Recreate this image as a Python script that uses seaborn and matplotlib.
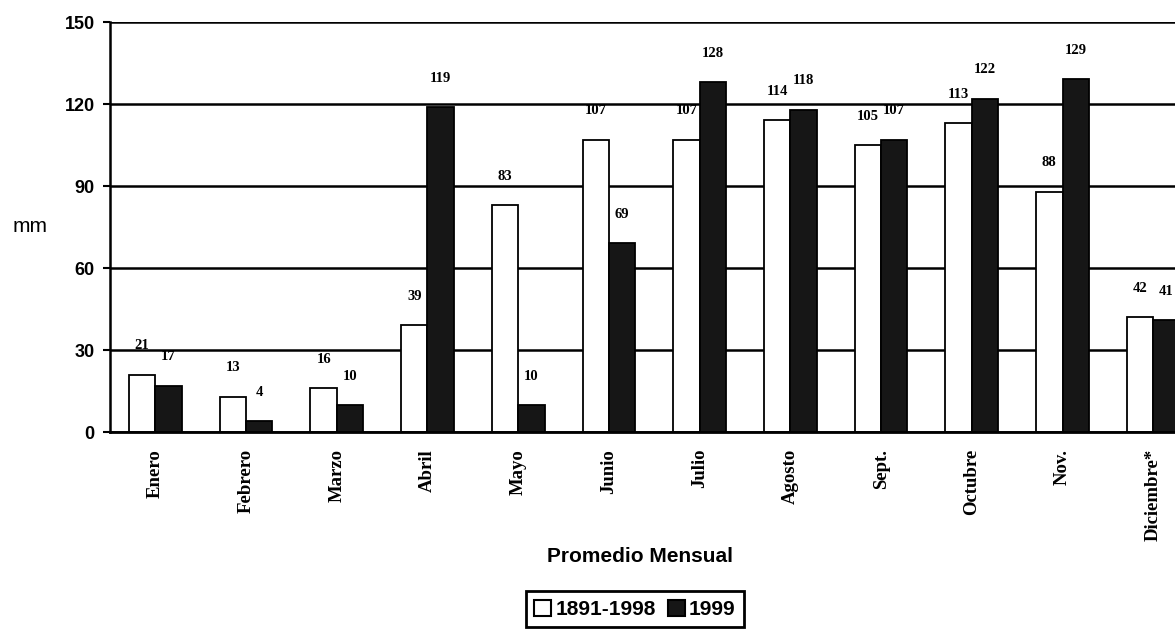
# Precipitacion mensual: promedio 1891-1998 vs 1999

import pandas as pd
import matplotlib.pyplot as plt
import seaborn as sns
from matplotlib.patches import Patch

months = ['Enero', 'Febrero', 'Marzo', 'Abril', 'Mayo', 'Junio', 'Julio',
          'Agosto', 'Sept.', 'Octubre', 'Nov.', 'Diciembre*']
avg_1891_1998 = [21, 13, 16, 39, 83, 107, 107, 114, 105, 113, 88, 42]
year_1999 = [17, 4, 10, 119, 10, 69, 128, 118, 107, 122, 129, 41]
periods = ['1891-1998', '1999']

df = pd.DataFrame({
    'Mes': months * 2,
    'mm': avg_1891_1998 + year_1999,
    'Periodo': [periods[0]] * len(months) + [periods[1]] * len(months),
})

sns.set_style('white')
plt.rcParams['font.family'] = ['Liberation Sans', 'DejaVu Sans']
plt.rcParams['text.color'] = 'black'
plt.rcParams['xtick.color'] = 'black'
plt.rcParams['ytick.color'] = 'black'
plt.rcParams['axes.labelcolor'] = 'black'

fig = plt.figure(figsize=(11.75, 6.29), dpi=100)
ax = fig.add_axes([0.0936, 0.313, 0.9064, 0.652])

colors = {'1891-1998': 'white', '1999': '#161616'}
sns.barplot(data=df, x='Mes', y='mm', hue='Periodo', palette=colors,
            width=0.58, edgecolor='black', linewidth=1.3, saturation=1,
            legend=False, ax=ax)

ax.set_ylim(0, 150)
ax.set_xlim(-0.5, 11.24)
ax.set_yticks([0, 30, 60, 90, 120, 150])
ax.yaxis.grid(True, color='black', linewidth=1.8)
ax.set_axisbelow(True)
for s in ['top', 'right']:
    ax.spines[s].set_visible(False)
ax.spines['left'].set_linewidth(1.8)
ax.spines['bottom'].set_linewidth(2)
ax.spines['left'].set_color('black')
ax.spines['bottom'].set_color('black')

ax.tick_params(axis='y', length=5, width=1.5, direction='out', left=True,
               labelsize=13, pad=6)
for t in ax.get_yticklabels():
    t.set_fontweight('bold')
ax.tick_params(axis='x', length=0, pad=12)
ax.set_xticks(range(len(months)))
ax.set_xticklabels(months, rotation=90, fontfamily='Liberation Serif',
                   fontweight='bold', fontsize=13.5, va='top')
ax.set_xlabel('')
ax.set_ylabel('')

for cont in ax.containers:
    ax.bar_label(cont, padding=16, fontfamily='Liberation Serif',
                 fontweight='bold', fontsize=10.5)

fig.text(0.026, 1 - 227 / 629, 'mm', fontsize=15, ha='center', va='center')
fig.text(640 / 1175, 1 - 556 / 629, 'Promedio Mensual', fontsize=15,
         fontweight='bold', ha='center', va='center')

handles = [Patch(facecolor=colors[p], edgecolor='black', linewidth=1.5, label=p)
           for p in periods]
leg = fig.legend(handles=handles, loc='upper center', ncol=2,
                 bbox_to_anchor=(635 / 1175, 1 - 581 / 629),
                 frameon=True, fancybox=False, edgecolor='black', framealpha=1,
                 prop={'size': 15, 'weight': 'bold'},
                 handlelength=0.8, handleheight=0.8, handletextpad=0.2,
                 columnspacing=0.6, borderpad=0.4)
leg.get_frame().set_linewidth(2)

fig.savefig('out.png', dpi=100)
